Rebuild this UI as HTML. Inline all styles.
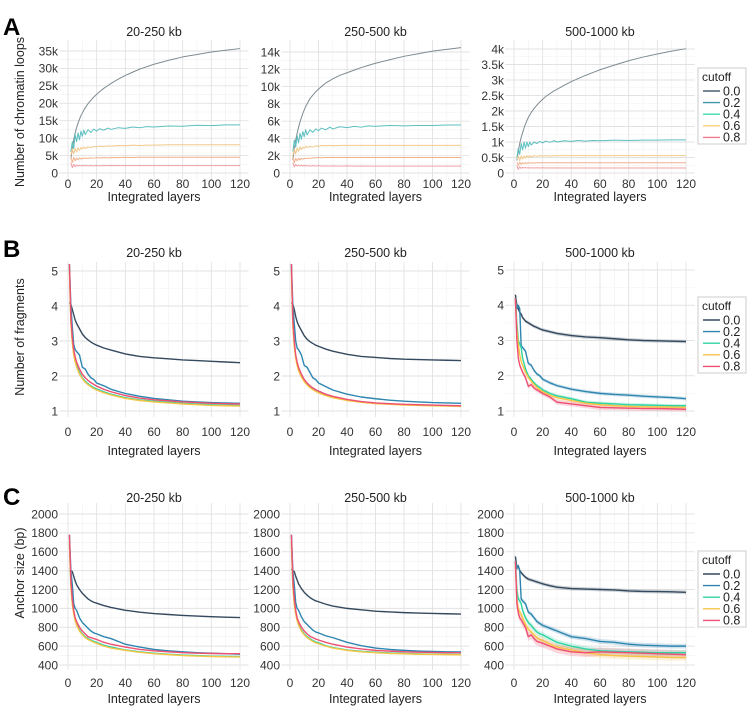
<!DOCTYPE html>
<html><head><meta charset="utf-8"><style>
html,body{margin:0;padding:0;background:#fff;}
svg{display:block;font-family:"Liberation Sans",Arial,sans-serif;}
</style></head><body>
<svg id="fig" width="753" height="709" viewBox="0 0 753 709"></svg>
<script>
const XA = [2,3,4,5,6,7,8,9,10,11,12,14,16,18,20,22,25,28,30,35,40,45,50,55,60,70,80,90,100,110,120];
const XB = [1,2,3,4,5,6,8,10,12,14,16,18,20,25,30,40,50,60,70,80,90,100,110,120];
const cutoffs = ["0.0","0.2","0.4","0.6","0.8"];
const xTicks = [0,20,40,60,80,100,120];
const colTitles = ["20-250 kb","250-500 kb","500-1000 kb"];

const A1 = [
[4000,7000,9500,11500,13000,14300,15400,16400,17200,18000,18700,19900,20900,21800,22600,23300,24300,25100,25700,26900,28000,28900,29800,30500,31200,32300,33300,34000,34700,35200,35700],
[6000,9000,7000,11000,9000,11500,9500,12000,10500,12300,11000,12400,11600,12600,12000,12700,12300,12900,12500,13000,12800,13200,13000,13300,13200,13500,13400,13700,13600,13800,13800],
[5000,7000,5500,7000,6000,7200,6500,7300,6900,7400,7000,7500,7300,7600,7500,7700,7600,7800,7700,7900,7800,8000,7900,8000,8000,8100,8100,8100,8100,8100,8100],
[4500,3000,4500,3500,4300,3800,4300,4000,4300,4100,4300,4200,4350,4250,4400,4300,4400,4350,4450,4400,4500,4450,4500,4500,4500,4500,4500,4500,4500,4500,4500],
[3000,1500,2500,1800,2300,2000,2200,2000,2200,2050,2200,2050,2150,2050,2150,2050,2150,2100,2150,2100,2100,2100,2100,2100,2100,2100,2100,2100,2100,2100,2100]];
const A2 = [
[1500,2800,3800,4600,5300,5900,6400,6900,7300,7700,8000,8600,9000,9400,9700,10000,10400,10700,10900,11300,11600,11900,12200,12450,12700,13100,13500,13800,14100,14300,14500],
[2500,3800,3000,4300,3500,4600,3900,4800,4200,5000,4400,5000,4700,5100,4900,5200,5000,5300,5100,5350,5250,5400,5300,5450,5400,5500,5450,5500,5500,5550,5550],
[2000,2800,2200,2900,2500,3000,2700,3000,2850,3100,2950,3100,3000,3150,3100,3200,3150,3200,3150,3200,3200,3200,3200,3200,3200,3200,3200,3200,3200,3200,3200],
[1800,1200,1700,1400,1700,1500,1700,1600,1700,1650,1700,1700,1750,1750,1800,1750,1800,1800,1800,1800,1800,1800,1800,1800,1800,1800,1800,1800,1800,1800,1800],
[1200,700,1000,800,900,800,900,800,900,800,850,800,850,800,850,800,830,800,820,800,820,800,810,800,800,800,800,800,800,800,800]];
const A3 = [
[400,700,950,1150,1300,1450,1580,1690,1790,1870,1950,2080,2190,2290,2380,2460,2560,2650,2700,2830,2950,3050,3150,3240,3330,3480,3620,3740,3840,3930,4010],
[500,800,600,950,750,1000,800,1000,850,1000,900,1000,950,1020,970,1030,990,1040,1000,1040,1020,1050,1030,1050,1040,1060,1050,1060,1060,1070,1070],
[450,550,400,550,450,550,480,560,500,560,520,560,540,560,550,560,550,560,555,560,560,560,560,560,560,560,560,560,560,560,560],
[350,250,350,280,330,300,330,310,330,320,330,320,330,330,330,330,330,330,330,330,330,330,330,330,330,330,330,330,330,330,330],
[250,120,200,150,180,160,180,160,170,160,170,160,170,160,170,160,165,160,165,160,160,160,160,160,160,160,160,160,160,160,160]];

const B1 = [
[4.1,4.05,3.9,3.75,3.6,3.5,3.35,3.2,3.1,3.03,2.97,2.92,2.88,2.8,2.74,2.63,2.56,2.52,2.49,2.46,2.44,2.42,2.40,2.38],
[5.2,4.0,3.4,2.9,2.75,2.7,2.6,2.25,2.2,2.05,1.95,1.9,1.8,1.72,1.62,1.5,1.42,1.36,1.32,1.28,1.26,1.24,1.23,1.22],
[5.1,3.6,3.0,2.65,2.45,2.3,2.1,1.95,1.85,1.78,1.72,1.67,1.63,1.55,1.48,1.38,1.32,1.28,1.25,1.22,1.2,1.18,1.17,1.16],
[5.0,3.5,2.95,2.6,2.4,2.25,2.05,1.92,1.82,1.75,1.69,1.64,1.60,1.52,1.46,1.36,1.30,1.26,1.23,1.20,1.18,1.16,1.15,1.14],
[5.2,3.7,3.1,2.75,2.55,2.4,2.2,2.05,1.95,1.87,1.81,1.76,1.71,1.62,1.55,1.44,1.37,1.32,1.29,1.26,1.24,1.22,1.21,1.20]];
const B2 = [
[4.1,4.05,3.9,3.7,3.55,3.45,3.3,3.15,3.05,2.98,2.93,2.88,2.85,2.77,2.71,2.62,2.56,2.53,2.50,2.48,2.47,2.46,2.45,2.44],
[5.2,4.0,3.5,3.0,2.8,2.75,2.6,2.3,2.25,2.1,1.95,1.9,1.8,1.7,1.6,1.48,1.40,1.35,1.31,1.28,1.26,1.24,1.23,1.22],
[5.1,3.5,2.9,2.55,2.35,2.2,2.0,1.87,1.77,1.7,1.64,1.59,1.55,1.46,1.4,1.31,1.26,1.22,1.20,1.18,1.17,1.16,1.15,1.14],
[5.0,3.4,2.85,2.5,2.3,2.15,1.97,1.84,1.74,1.67,1.61,1.56,1.52,1.44,1.38,1.3,1.25,1.21,1.19,1.17,1.16,1.15,1.14,1.13],
[5.2,3.6,3.0,2.6,2.4,2.25,2.05,1.9,1.8,1.72,1.66,1.61,1.57,1.48,1.42,1.33,1.27,1.23,1.21,1.19,1.18,1.17,1.16,1.15]];
const B3 = [
[4.3,4.0,3.9,3.8,3.75,3.65,3.55,3.5,3.45,3.4,3.37,3.33,3.3,3.25,3.2,3.14,3.1,3.08,3.05,3.02,3.0,2.99,2.98,2.97],
[4.2,3.9,4.0,3.9,2.85,2.8,2.7,2.35,2.3,2.15,2.05,2.0,1.9,1.8,1.72,1.62,1.55,1.5,1.47,1.45,1.42,1.4,1.38,1.35],
[4.2,3.5,3.0,2.9,2.8,2.5,2.2,2.0,1.9,1.8,1.72,1.67,1.6,1.5,1.43,1.35,1.25,1.22,1.2,1.18,1.17,1.16,1.15,1.15],
[4.1,3.3,2.9,2.6,2.4,2.3,2.1,1.95,1.85,1.75,1.67,1.6,1.55,1.45,1.38,1.3,1.22,1.18,1.15,1.13,1.12,1.11,1.11,1.10],
[4.2,3.0,2.5,2.3,2.2,2.1,1.95,1.7,1.75,1.65,1.6,1.55,1.5,1.4,1.25,1.2,1.15,1.1,1.09,1.08,1.07,1.07,1.06,1.05]];

const C1 = [
[1400,1400,1390,1340,1290,1250,1200,1160,1130,1100,1080,1065,1055,1030,1010,980,960,945,935,925,918,912,907,903],
[1780,1400,1250,1050,1000,980,900,850,820,790,760,740,730,700,680,620,590,565,550,540,530,525,520,515],
[1700,1250,1050,950,880,830,770,730,700,680,665,650,640,610,590,560,540,525,515,505,500,495,492,490],
[1700,1230,1040,940,870,820,760,720,690,670,655,640,630,600,580,555,535,520,510,500,495,490,487,485],
[1780,1300,1100,980,900,860,800,760,730,700,690,680,670,640,620,590,565,550,540,530,525,522,520,520]];
const C2 = [
[1420,1400,1390,1340,1300,1260,1210,1170,1140,1115,1095,1080,1070,1045,1025,1000,985,970,962,955,950,946,943,940],
[1780,1400,1250,1060,1000,980,910,860,830,800,770,750,740,710,690,640,605,580,565,555,548,543,540,538],
[1700,1250,1050,950,880,830,770,730,700,680,660,645,635,605,585,560,545,535,528,522,518,515,513,512],
[1700,1230,1040,940,870,820,760,720,690,670,650,635,625,600,580,555,540,530,523,518,514,512,510,508],
[1780,1300,1100,980,900,860,800,760,730,705,690,675,665,640,620,590,570,555,547,540,536,533,531,530]];
const C3 = [
[1550,1430,1450,1400,1380,1360,1330,1310,1300,1290,1280,1270,1260,1240,1225,1210,1205,1200,1195,1185,1180,1178,1175,1170],
[1500,1420,1450,1400,1100,1080,1050,960,940,900,860,840,820,790,760,700,680,650,640,620,610,605,600,600],
[1500,1200,1100,1080,1050,980,900,850,820,780,750,730,720,680,640,600,570,550,545,540,535,530,530,530],
[1450,1100,1000,960,940,900,830,780,750,720,690,670,660,620,590,560,530,510,500,495,490,485,480,480],
[1500,1050,950,900,880,850,800,700,720,680,650,640,630,600,570,540,530,540,535,530,525,520,515,510]];

const ticksA1 = [0,5000,10000,15000,20000,25000,30000,35000];
const labelsA1 = ["0","5k","10k","15k","20k","25k","30k","35k"];
const ticksA2 = [0,2000,4000,6000,8000,10000,12000,14000];
const labelsA2 = ["0","2k","4k","6k","8k","10k","12k","14k"];
const ticksA3 = [0,500,1000,1500,2000,2500,3000,3500,4000];
const labelsA3 = ["0","0.5k","1k","1.5k","2k","2.5k","3k","3.5k","4k"];
const ticksB = [1,2,3,4,5];
const labelsB = ["1","2","3","4","5"];
const ticksC = [400,600,800,1000,1200,1400,1600,1800,2000];
const labelsC = ["400","600","800","1000","1200","1400","1600","1800","2000"];

const colors = ["#34495e","#2e86b0","#2fd3a2","#f5c445","#ee4f72"];
const colorsA = ["#7d8b92","#5cbfc0","#f3c98c","#f2b08c","#f0a0a6"];
const legColors = ["#4a6070","#3f97a8","#3fd8b0","#f8d27a","#f07a90"];
const NS = "http://www.w3.org/2000/svg";
const svg = document.getElementById("fig");
function el(tag, attrs, parent){ const e=document.createElementNS(NS,tag); for(const k in attrs) e.setAttribute(k,attrs[k]); (parent||svg).appendChild(e); return e; }
function txt(s, attrs, parent){ const t=el("text",attrs,parent); t.textContent=s; return t; }

const cols = [{x0:68,x1:240},{x0:290,x1:461},{x0:514,x1:686}];
const rows = [
 {key:"A", top:40, bot:181, tickLab:184, xlab:197, title:36, letterY:27, ylabel:"Number of chromatin loops", ylabY:112, legTop:68,
  panels:[{d:A1,xs:XA,t:ticksA1,l:labelsA1,v0:0,p0:173,v1:35000,p1:51},{d:A2,xs:XA,t:ticksA2,l:labelsA2,v0:0,p0:173,v1:14000,p1:52},{d:A3,xs:XA,t:ticksA3,l:labelsA3,v0:0,p0:173,v1:4000,p1:49}], faint:true},
 {key:"B", top:262, bot:417, tickLab:432, xlab:451, title:257, letterY:249, ylabel:"Number of fragments", ylabY:337, legTop:297,
  panels:[{d:B1,xs:XB,t:ticksB,l:labelsB,v0:1,p0:411,v1:5,p1:271},{d:B2,xs:XB,t:ticksB,l:labelsB,v0:1,p0:411,v1:5,p1:271},{d:B3,xs:XB,t:ticksB,l:labelsB,v0:1,p0:411,v1:5,p1:270,band:[0.05,0.05,0.05,0.06,0.07]}]},
 {key:"C", top:503, bot:670, tickLab:683, xlab:699, title:502, letterY:497, ylabel:"Anchor size (bp)", ylabY:573, legTop:551,
  panels:[{d:C1,xs:XB,t:ticksC,l:labelsC,v0:400,p0:665,v1:2000,p1:514},{d:C2,xs:XB,t:ticksC,l:labelsC,v0:400,p0:665,v1:2000,p1:514},{d:C3,xs:XB,t:ticksC,l:labelsC,v0:400,p0:665,v1:2000,p1:514,band:[20,25,30,35,45]}]}
];

rows.forEach((row)=>{
  const g = el("g",{});
  
  
  const L = txt(row.key,{x:3,y:row.letterY+8,"font-size":24,"font-weight":"bold",fill:"#000"},g);
  
  
  const yl = txt(row.ylabel,{x:0,y:0,"font-size":12.5,fill:"#222","text-anchor":"middle",transform:`translate(24,${row.ylabY}) rotate(-90)`},g);
  
  
  row.panels.forEach((p,ci)=>{
    const c = cols[ci];
    const X = v => c.x0 + (v)*(c.x1-c.x0)/120;
    const Y = v => p.p0 + (v-p.v0)*(p.p1-p.p0)/(p.v1-p.v0);
    const pg = el("g",{},g);
    
    
    const left = X(-6), right = X(126);
    for(let i=0;i<p.t.length-1;i++){ const m=(p.t[i]+p.t[i+1])/2; el("line",{x1:left,x2:right,y1:Y(m),y2:Y(m),stroke:"#f1f1f1","stroke-width":0.6},pg); }
    for(let v=10; v<=110; v+=20){ el("line",{x1:X(v),x2:X(v),y1:row.top,y2:row.bot,stroke:"#f1f1f1","stroke-width":0.6},pg); }
    p.t.forEach((v,i)=>{
      el("line",{x1:left,x2:right,y1:Y(v),y2:Y(v),stroke:"#e2e2e2","stroke-width":0.9},pg);
      const tl = txt(p.l[i],{x:c.x0-10,y:Y(v)+4.3,"font-size":12,fill:"#333","text-anchor":"end"},pg);
      
      
    });
    xTicks.forEach(v=>{
      el("line",{x1:X(v),x2:X(v),y1:row.top,y2:row.bot,stroke:"#e2e2e2","stroke-width":0.9},pg);
      const tl = txt(String(v),{x:X(v),y:row.tickLab+4,"font-size":12,fill:"#333","text-anchor":"middle"},pg);
      
      
    });
    const tt = txt(colTitles[ci],{x:(c.x0+c.x1)/2,y:row.title,"font-size":12.5,fill:"#222","text-anchor":"middle"},pg);
    
    
    const xl = txt("Integrated layers",{x:(c.x0+c.x1)/2,y:row.xlab+4,"font-size":12.5,fill:"#222","text-anchor":"middle"},pg);
    
    
    if(p.band){
      p.d.forEach((s,si)=>{
        const up = s.map((v,i)=>X(p.xs[i])+","+Y(v+p.band[si])).join(" ");
        const dn = s.map((v,i)=>X(p.xs[i])+","+Y(v-p.band[si])).reverse().join(" ");
        const b = el("polygon",{points:up+" "+dn,fill:colors[si],opacity:0.22},pg);
        
        
      });
    }
    p.d.forEach((s,si)=>{
      const pts = s.map((v,i)=>X(p.xs[i]).toFixed(2)+","+Y(v).toFixed(2)).join(" ");
      const ln = el("polyline",{points:pts,fill:"none",stroke:row.faint?colorsA[si]:colors[si],"stroke-width":row.faint?1:1.4,"stroke-linejoin":"round"},pg);
      
      
    });
  });
  const lg = el("g",{},g);
  
  
  el("rect",{x:698,y:row.legTop,width:48,height:76,fill:"#fff",stroke:"#ccc","stroke-width":1},lg);
  const lt = txt("cutoff",{x:702,y:row.legTop+13,"font-size":12,fill:"#222"},lg);
  
  
  cutoffs.forEach((cv,i)=>{
    const yy = row.legTop+23+i*11.6;
    const e = el("g",{},lg);
    
    
    el("line",{x1:703,x2:720,y1:yy,y2:yy,stroke:row.faint?legColors[i]:colors[i],"stroke-width":1.4},e);
    txt(cv,{x:723,y:yy+4.3,"font-size":12.5,fill:"#222"},e);
  });
});
</script>
</body></html>
